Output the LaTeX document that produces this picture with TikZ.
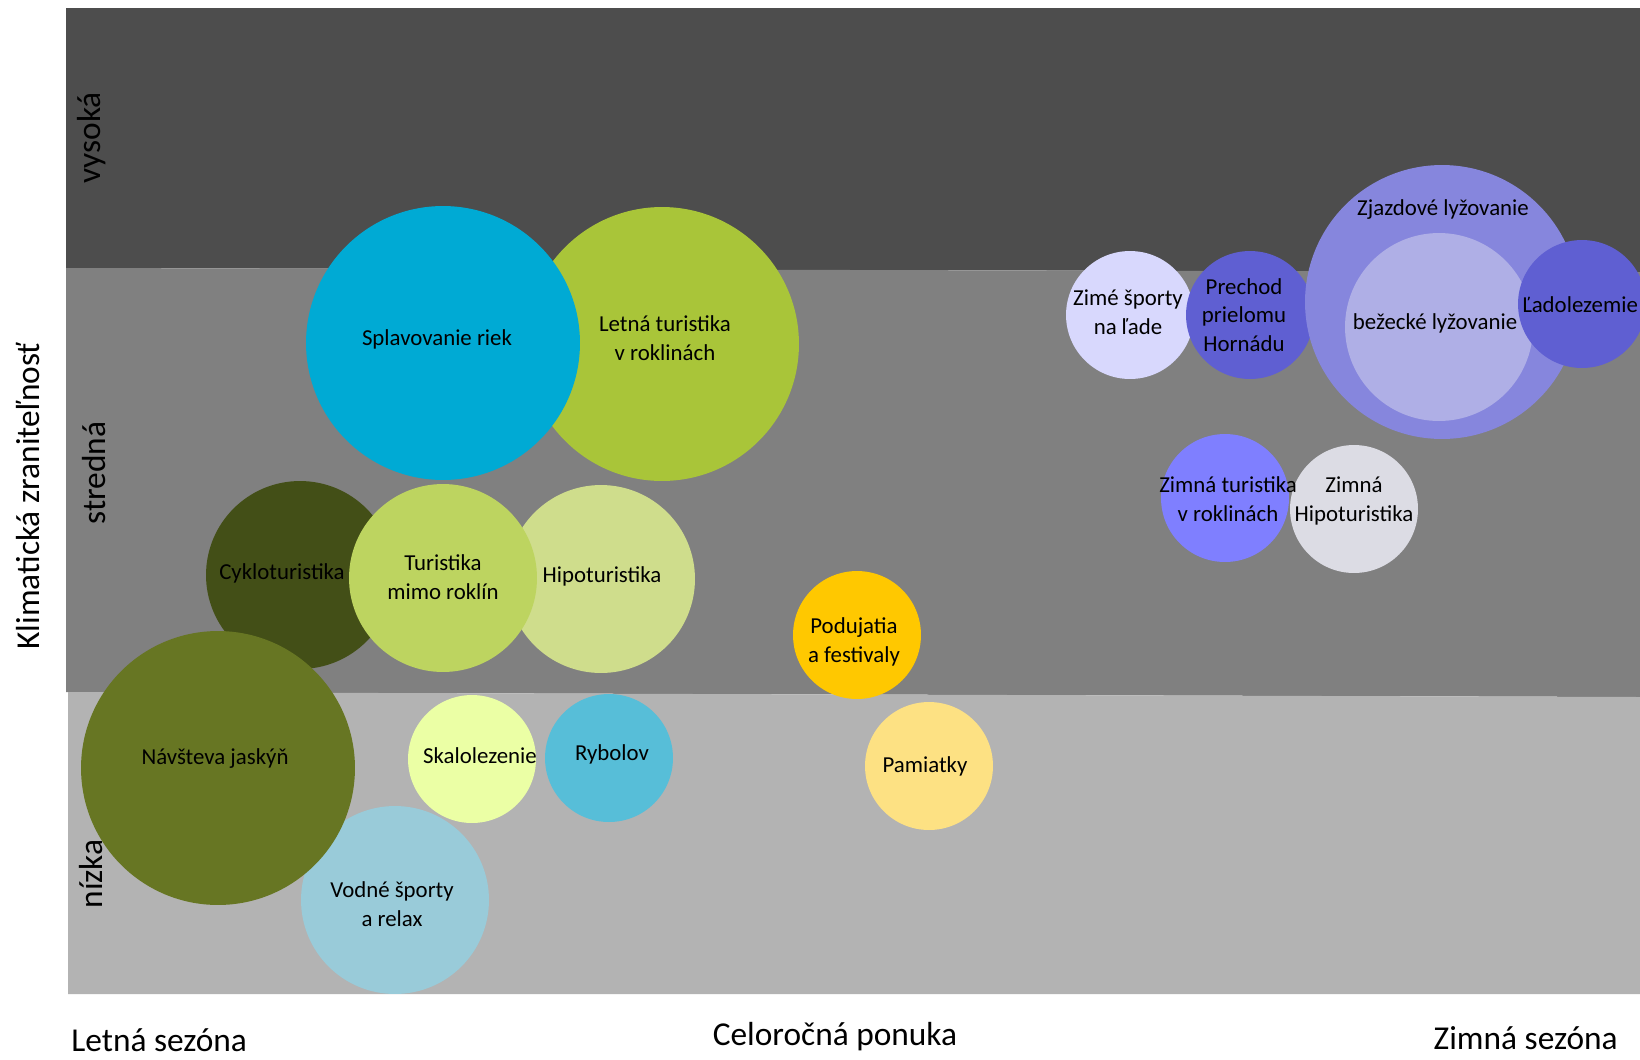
\documentclass[tikz,border=0pt]{standalone}
\usepackage{fontspec}
\setmainfont{Carlito}
\usetikzlibrary{positioning}
\definecolor{kzHigh}{HTML}{4D4D4D}
\definecolor{kzMid}{HTML}{808080}
\definecolor{kzLow}{HTML}{B3B3B3}
\definecolor{kzCyan}{HTML}{00AAD4}
\definecolor{kzLime}{HTML}{A9C539}
\definecolor{kzOliveDark}{HTML}{434F17}
\definecolor{kzOlive}{HTML}{677623}
\definecolor{kzLimeSoft}{HTML}{BDD460}
\definecolor{kzLimePale}{HTML}{CFDD8C}
\definecolor{kzSky}{HTML}{99CBD9}
\definecolor{kzCream}{HTML}{EBFFA5}
\definecolor{kzBlue}{HTML}{57BED8}
\definecolor{kzGold}{HTML}{FFC800}
\definecolor{kzSand}{HTML}{FDE183}
\definecolor{kzLilac}{HTML}{D8D8FD}
\definecolor{kzIndigo}{HTML}{5F5FD2}
\definecolor{kzViolet}{HTML}{8686DD}
\definecolor{kzVioletSoft}{HTML}{AFAFE6}
\definecolor{kzPeri}{HTML}{7F7FFF}
\definecolor{kzMist}{HTML}{DCDCE4}
\tikzset{
  kz bubble/.style={circle, fill=#1, draw=none, inner sep=0pt},
  kz big/.style={minimum size=5.48cm},
  kz medium/.style={minimum size=3.76cm},
  kz small/.style={minimum size=2.56cm},
  kz text/.style={font=\fontsize{13}{16.4}\selectfont, text=black, align=center, inner sep=0pt},
  kz axis/.style={font=\fontsize{19}{22}\selectfont, text=black, inner sep=0pt}
}
\begin{document}
\begin{tikzpicture}[x=0.02cm,y=-0.02cm]
  \useasboundingbox (0,0) rectangle (1640,1059);
  \fill[white] (0,0) rectangle (1640,1059);

  % vulnerability bands
  \fill[kzHigh] (66,8) -- (1640,8) -- (1640,272) -- (66,268) -- cycle;
  \fill[kzMid] (66,268) -- (1640,272) -- (1640,697) -- (66,692) -- cycle;
  \fill[kzLow] (68,692) -- (1640,697) -- (1640,994) -- (68,994) -- cycle;

  % summer offers
  \node[kz bubble=kzLime, kz big] (letna) at (662,344) {};
  \node[kz bubble=kzCyan, kz big] (splav) at (443,343) {};
  \node[kz bubble=kzOliveDark, kz medium] (cyklo) at (300,575) {};
  \node[kz bubble=kzLimePale, kz medium] (hipo) at (601,579) {};
  \node[kz bubble=kzLimeSoft, kz medium] (mimo) at (443,578) {};
  \node[kz bubble=kzSky, kz medium] (vodne) at (395,900) {};
  \node[kz bubble=kzOlive, kz big] (jaskyne) at (218,768) {};
  \node[kz bubble=kzCream, kz small] (skalo) at (472,759) {};
  \node[kz bubble=kzBlue, kz small] (rybolov) at (609,758) {};

  % year-round offers
  \node[kz bubble=kzGold, kz small] (podujatia) at (857,635) {};
  \node[kz bubble=kzSand, kz small] (pamiatky) at (929,766) {};

  % winter offers
  \node[kz bubble=kzLilac, kz small] (lad) at (1130,315) {};
  \node[kz bubble=kzIndigo, kz small] (prechod) at (1250,315) {};
  \node[kz bubble=kzViolet, kz big] (zjazd) at (1442,302) {};
  \node[kz bubble=kzVioletSoft, kz medium] (bezky) at (1439,327) {};
  \node[kz bubble=kzIndigo, kz small] (ladolez) at (1582,304) {};
  \node[kz bubble=kzPeri, kz small] (zimtur) at (1225,498) {};
  \node[kz bubble=kzMist, kz small] (zimhipo) at (1354,509) {};

  % bubble labels
  \node[kz text] (splav-t) at (437,339) {Splavovanie riek};
  \node[kz text] (letna-t) at (665,338) {Letná turistika\\v roklinách};
  \node[kz text] (cyklo-t) at (282,573) {Cykloturistika};
  \node[kz text] (mimo-t) at (443,577) {Turistika\\mimo roklín};
  \node[kz text] (hipo-t) at (602,576) {Hipoturistika};
  \node[kz text] (jaskyne-t) at (215,759) {Návšteva jaskýň};
  \node[kz text] (vodne-t) at (392,904) {Vodné športy\\a relax};
  \node[kz text] (skalo-t) at (480,756) {Skalolezenie};
  \node[kz text] (rybolov-t) at (612,754) {Rybolov};
  \node[kz text] (podujatia-t) at (854,642) {Podujatia\\a festivaly};
  \node[kz text] (pamiatky-t) at (925,766) {Pamiatky};
  \node[kz text] (lad-t) at (1128,312) {Zimé športy\\na ľade};
  \node[kz text] (prechod-t) at (1244,315) {Prechod\\prielomu\\Hornádu};
  \node[kz text] (zjazd-t) at (1443,210) {Zjazdové lyžovanie};
  \node[kz text] (bezky-t) at (1435,323) {bežecké lyžovanie};
  \node[kz text] (ladolez-t) at (1580,305) {Ľadolezemie};
  \node[kz text] (zimtur-t) at (1228,499) {Zimná turistika\\v roklinách};
  \node[kz text] (zimhipo-t) at (1354,501) {Zimná\\Hipoturistika};

  % axes
  \node[kz axis, rotate=90] (yaxis) at (28,496) {Klimatická zraniteľnosť};
  \node[kz axis, rotate=90] (vysoka) at (92,138) {vysoká};
  \node[kz axis, rotate=90] (stredna) at (94,473) {stredná};
  \node[kz axis, rotate=90] (nizka) at (91,874) {nízka};
  \node[kz axis, anchor=west] (leto) at (71,1040) {Letná sezóna};
  \node[kz axis] (celorok) at (835,1037) {Celoročná ponuka};
  \node[kz axis, anchor=east] (zima) at (1618,1038) {Zimná sezóna};
\end{tikzpicture}
\end{document}
